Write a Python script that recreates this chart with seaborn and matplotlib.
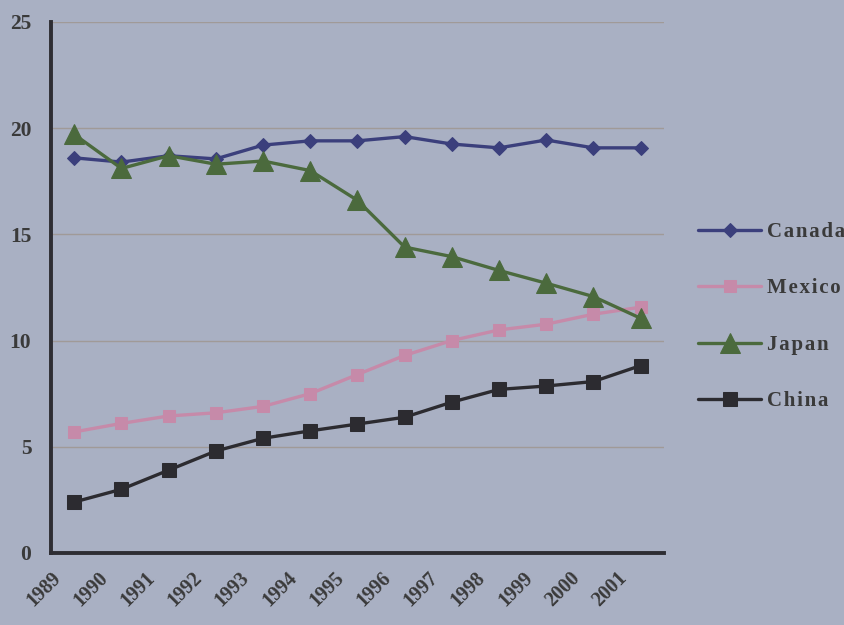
import pandas as pd
import seaborn as sns
import matplotlib.pyplot as plt

# Data
years = ["1989", "1990", "1991", "1992", "1993", "1994", "1995",
         "1996", "1997", "1998", "1999", "2000", "2001"]
canada = [18.6, 18.4, 18.7, 18.55, 19.2, 19.4, 19.4, 19.6, 19.25, 19.07, 19.44, 19.07, 19.07]
mexico = [5.7, 6.1, 6.45, 6.6, 6.9, 7.5, 8.4, 9.3, 10.0, 10.5, 10.77, 11.24, 11.57]
japan = [19.7, 18.1, 18.7, 18.3, 18.45, 18.0, 16.6, 14.4, 13.95, 13.3, 12.7, 12.07, 11.05]
china = [2.4, 3.0, 3.9, 4.8, 5.4, 5.75, 6.07, 6.39, 7.1, 7.7, 7.86, 8.07, 8.82]

bg = "#a9b0c3"
sns.set_style("white")
plt.rcParams["font.family"] = ["Liberation Serif", "DejaVu Serif"]

fig = plt.figure(figsize=(8.45, 6.25), dpi=100, facecolor=bg)
ax = fig.add_axes([0.060, 0.1152, 0.726, 0.8498])
ax.set_facecolor(bg)

pos = list(range(len(years)))
series = [
    ("Canada", canada, "#3b3f7c", "D", 7),
    ("Mexico", mexico, "#c68aa9", "s", 8),
    ("Japan", japan, "#4b6a3d", "^", 14),
    ("China", china, "#2c2b30", "s", 10),
]
for name, vals, col, mk, ms in series:
    # spread letters a little like the original legend text
    sns.lineplot(x=pos, y=vals, ax=ax, color=col, marker=mk, markersize=ms,
                 markeredgecolor=col, linewidth=2.4, label="\u200a".join(name))

ax.set_xlim(-0.5, len(years) - 0.5)
ax.set_ylim(0, 25)
ax.set_yticks([0, 5, 10, 15, 20, 25])
for y in [5, 10, 15, 20, 25]:
    ax.axhline(y, color="#a09a98", linewidth=1.0, zorder=0)

# x ticks at category boundaries, labels rotated
bounds = [p - 0.5 for p in range(len(years) + 1)]
ax.set_xticks(bounds)
ax.set_xticklabels(years + [""], rotation=45, ha="right", rotation_mode="anchor",
                   fontsize=14.5, fontweight="bold", color="#3a3a3a")
ax.tick_params(axis="x", direction="out", length=7, width=2.5, color="#2e2d33", pad=4)
ax.tick_params(axis="y", length=0, pad=14)
for t in ax.get_yticklabels():
    t.set_fontsize(15.5)
    t.set_fontweight("bold")
    t.set_color("#3a3a3a")

for s in ["top", "right"]:
    ax.spines[s].set_visible(False)
for s in ["left", "bottom"]:
    ax.spines[s].set_color("#2e2d33")
    ax.spines[s].set_linewidth(2.8)

leg = ax.legend(loc="center left", bbox_to_anchor=(1.025, 0.445), frameon=False,
                handlelength=3.0, labelspacing=1.75, handletextpad=0.3,
                prop={"family": "Liberation Serif", "weight": "bold", "size": 15})
for t in leg.get_texts():
    t.set_color("#3a3a3a")

plt.savefig("out.png", dpi=100, facecolor=bg)
